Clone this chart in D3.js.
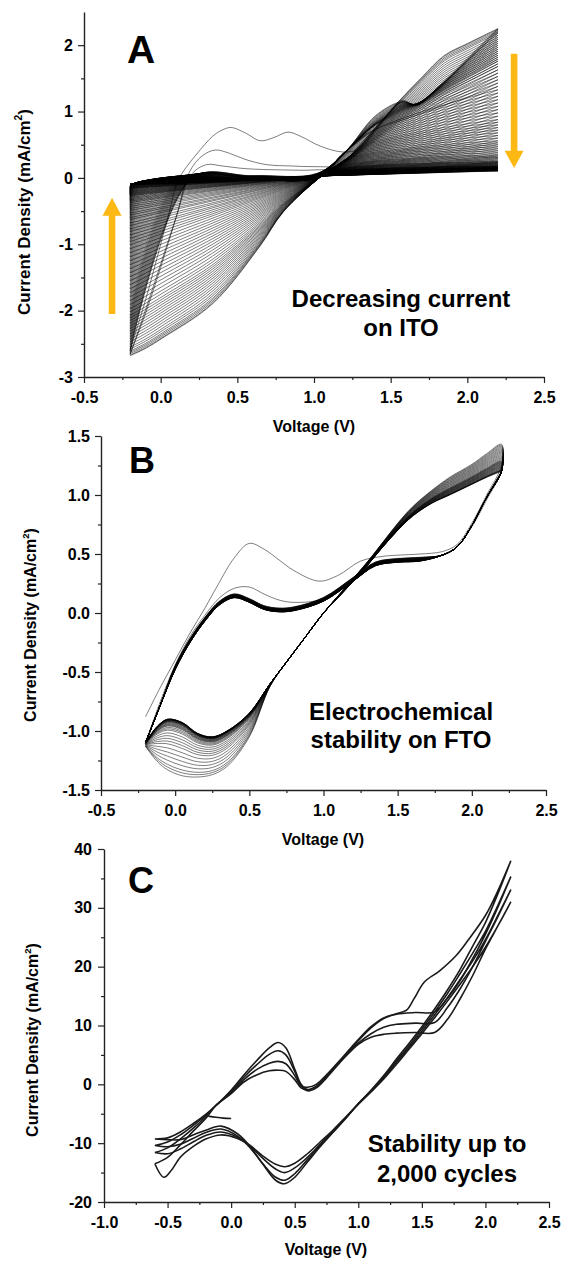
<!DOCTYPE html>
<html><head><meta charset="utf-8">
<script src="https://cdn.jsdelivr.net/npm/d3@7"></script>
<style>
body{margin:0;background:#fff}
svg{display:block;background:#fff}
text{font-family:"Liberation Sans",Arial,Helvetica,sans-serif;font-weight:bold;fill:#000}
</style>
</head><body>
<script>
// ================= DATA =================
// ---- Panel A (ITO, decreasing current) ----
const aXTicks = [-0.5, 0, 0.5, 1, 1.5, 2, 2.5];
const aXLabels = ["-0.5", "0.0", "0.5", "1.0", "1.5", "2.0", "2.5"];
const aXMinor = [-0.25, 0.25, 0.75, 1.25, 1.75, 2.25];
const aYTicks = [-3, -2, -1, 0, 1, 2];
const aYLabels = ["-3", "-2", "-1", "0", "1", "2"];
const aYMinor = [-2.5, -1.5, -0.5, 0.5, 1.5];
// current at the 2.2 V vertex for each cycle (first -> last)
const aEndHigh = [2.25,2.24,2.22,2.2,2.18,2.15,2.12,2.09,2.06,2.03,2.0,1.97,1.94,1.91,1.88,1.85,1.82,1.79,1.76,1.72,
  1.68,1.63,1.58,1.53,1.48,1.43,1.38,1.33,1.28,1.23,1.18,1.13,1.08,1.03,0.98,0.93,0.88,0.84,0.80,0.76,
  0.72,0.68,0.64,0.60,0.56,0.53,0.50,0.47,0.44,0.41,0.38,0.35,0.33,0.31,0.29,0.27,
  0.25,0.24,0.23,0.22,0.21,0.2,0.19,0.18,0.175,0.17,0.165,0.16,0.155,0.15,0.145,0.14,0.138,0.135,0.132,0.13,
  0.128,0.125,0.122,0.12,0.118,0.115,0.112,0.11,0.108,0.105];
// current at the -0.2 V vertex for each cycle
const aEndLow = [-2.68,-2.67,-2.65,-2.63,-2.61,-2.58,-2.55,-2.51,-2.47,-2.43,-2.39,-2.35,-2.31,-2.27,-2.23,-2.19,-2.15,-2.11,-2.07,-2.02,
  -1.97,-1.91,-1.85,-1.79,-1.73,-1.67,-1.61,-1.55,-1.49,-1.43,-1.37,-1.31,-1.25,-1.19,-1.13,-1.07,-1.01,-0.96,-0.91,-0.86,
  -0.81,-0.77,-0.72,-0.68,-0.63,-0.6,-0.56,-0.53,-0.49,-0.46,-0.43,-0.4,-0.37,-0.35,-0.33,-0.31,
  -0.29,-0.27,-0.26,-0.25,-0.24,-0.23,-0.22,-0.21,-0.2,-0.19,-0.18,-0.17,-0.16,-0.155,-0.15,-0.145,-0.14,-0.135,-0.13,-0.125,
  -0.12,-0.115,-0.11,-0.105,-0.1,-0.1,-0.095,-0.09,-0.09,-0.085];
// first three forward scans (read directly)
const aFwd1V = [-0.2,-0.1,0.0,0.06,0.11,0.17,0.235,0.34,0.4,0.46,0.55,0.65,0.74,0.83,0.91,1.04,1.19,1.3,1.4,1.5,1.57,1.67,1.8,2.0,2.2];
const aFwd1I = [-2.6,-1.85,-1.0,-0.48,-0.05,0.17,0.36,0.63,0.72,0.76,0.68,0.56,0.61,0.69,0.63,0.48,0.39,0.44,0.72,1.0,1.17,1.1,1.35,1.8,2.25];
const aFwd2V = [-0.2,-0.1,0.0,0.1,0.19,0.27,0.355,0.45,0.55,0.69,0.85,1.0,1.17,1.3,1.45,1.57,1.67,1.8,2.0,2.2];
const aFwd2I = [-2.66,-2.05,-1.35,-0.6,0.1,0.33,0.42,0.37,0.28,0.2,0.18,0.17,0.2,0.5,0.88,1.15,1.1,1.33,1.78,2.24];
const aFwd3V = [-0.2,-0.1,0.0,0.1,0.2,0.3,0.4,0.55,0.8,1.0,1.15,1.3,1.45,1.57,1.67,1.8,2.0,2.2];
const aFwd3I = [-2.66,-2.0,-1.3,-0.6,0.05,0.2,0.18,0.14,0.12,0.12,0.16,0.5,0.88,1.14,1.09,1.32,1.76,2.22];
// late-cycle baseline (flat band)
const aBaseV = [-0.2, 1.05, 2.2];
const aBaseI = [-0.095, 0.005, 0.1];
// shape of the earliest cycles, as fraction of the vertex current
const aFwdRightV = [1.2, 1.4, 1.57, 1.67, 1.8, 2.0, 2.2];
const aFwdRightEarly = [0.17, 0.43, 0.52, 0.49, 0.6, 0.8, 1.0];
const aRevRightV = [2.0, 1.85, 1.7, 1.55, 1.4, 1.25];
const aRevRightEarly = [0.9, 0.82, 0.67, 0.51, 0.33, 0.16];
const aRevLeftV = [0.8, 0.648, 0.34, 0.015, -0.1, -0.2];
const aRevLeftEarly = [0.2, 0.39, 0.71, 0.9, 0.96, 1.0];
const aPivot = [1.05, 0.03];
const aArrowUp = [-0.317, -2.05, -0.57, -0.30];   // V, tail I, head-base I, tip I
const aArrowDown = [2.305, 1.87, 0.41, 0.15];

// ---- Panel B (FTO, stability) ----
const bXTicks = [-0.5, 0, 0.5, 1, 1.5, 2, 2.5];
const bXLabels = ["-0.5", "0.0", "0.5", "1.0", "1.5", "2.0", "2.5"];
const bXMinor = [-0.25, 0.25, 0.75, 1.25, 1.75, 2.25];
const bYTicks = [-1.5, -1, -0.5, 0, 0.5, 1, 1.5];
const bYLabels = ["-1.5", "-1.0", "-0.5", "0.0", "0.5", "1.0", "1.5"];
const bYMinor = [-1.25, -0.75, -0.25, 0.25, 0.75, 1.25];
const bFwdV = [-0.2,-0.1,0.0,0.1,0.2,0.3,0.4,0.5,0.6,0.7,0.8,1.0,1.2,1.35,1.5,1.65,1.8,1.9,2.0,2.1,2.2];
const bFwdLateI = [-1.1,-0.78,-0.48,-0.25,-0.07,0.07,0.13,0.09,0.03,0.01,0.02,0.1,0.27,0.4,0.43,0.44,0.49,0.56,0.74,0.98,1.2];
const bFwdSecondI = [-1.1,-0.75,-0.44,-0.2,-0.02,0.13,0.21,0.22,0.16,0.11,0.09,0.12,0.28,0.41,0.44,0.45,0.49,0.56,0.73,0.96,1.21];
const bFwdFirstV = [-0.2,-0.1,0.0,0.1,0.2,0.28,0.4,0.5,0.6,0.7,0.8,0.97,1.1,1.25,1.4,1.5,1.65,1.8,1.9,2.0,2.1,2.2];
const bFwdFirstI = [-0.88,-0.63,-0.4,-0.17,0.04,0.22,0.47,0.59,0.54,0.45,0.36,0.27,0.32,0.44,0.48,0.49,0.5,0.52,0.58,0.76,1.0,1.25];
const bRevV = [2.2,2.1,2.0,1.85,1.73,1.6,1.5,1.4,1.3,1.15,1.0,0.88,0.76,0.64,0.5,0.35,0.25,0.15,0.05,-0.05,-0.12,-0.2];
const bRevEarlyI = [1.43,1.35,1.26,1.15,1.04,0.9,0.76,0.6,0.44,0.22,0.0,-0.2,-0.4,-0.62,-1.05,-1.3,-1.37,-1.39,-1.38,-1.33,-1.26,-1.13];
const bRevLateI = [1.2,1.15,1.09,1.0,0.93,0.82,0.7,0.56,0.41,0.2,0.0,-0.2,-0.4,-0.6,-0.85,-1.0,-1.05,-1.02,-0.93,-0.9,-0.96,-1.1];
const bEndHigh = [1.43,1.42,1.41,1.4,1.39,1.38,1.37,1.36,1.35,1.34,1.33,1.32,1.31,1.3,1.29,1.285,1.28,1.275,1.27,1.265,
  1.26,1.255,1.25,1.245,1.24,1.235,1.23,1.225,1.22,1.215,1.21,1.208,1.206,1.204,1.202,1.2];
const bCathMin = [-1.39,-1.37,-1.35,-1.32,-1.29,-1.26,-1.23,-1.2,-1.18,-1.16,-1.14,-1.12,-1.1,-1.09,-1.08,-1.07,-1.065,-1.06,-1.055,-1.05,
  -1.045,-1.04,-1.038,-1.035,-1.033,-1.03,-1.028,-1.026,-1.025,-1.024,-1.023,-1.022,-1.021,-1.02,-1.02,-1.02];

// ---- Panel C (2,000 cycles) ----
const cXTicks = [-1, -0.5, 0, 0.5, 1, 1.5, 2, 2.5];
const cXLabels = ["-1.0", "-0.5", "0.0", "0.5", "1.0", "1.5", "2.0", "2.5"];
const cXMinor = [-0.75, -0.25, 0.25, 0.75, 1.25, 1.75, 2.25];
const cYTicks = [-20, -10, 0, 10, 20, 30, 40];
const cYLabels = ["-20", "-10", "0", "10", "20", "30", "40"];
const cYMinor = [-15, -5, 5, 15, 25, 35];
const cFwd1V = [-0.6,-0.5,-0.4,-0.3,-0.2,-0.12,0.0,0.1,0.2,0.3,0.37,0.43,0.5,0.55,0.6,0.67,0.75,0.85,1.0,1.1,1.2,1.3,1.38,1.44,1.52,1.64,1.77,1.86,2.0,2.1,2.2];
const cFwd1I = [-9.3,-9.1,-8.1,-6.7,-5.1,-3.6,-1.0,1.6,4.0,6.2,7.1,6.2,2.6,0.0,-0.9,-0.4,1.3,3.9,7.6,9.8,11.3,12.0,12.6,14.6,17.4,19.3,21.9,24.4,28.7,33.0,38.0];
const cFwdV = [-0.6,-0.5,-0.4,-0.3,-0.2,-0.12,0.0,0.1,0.2,0.3,0.37,0.43,0.5,0.55,0.6,0.67,0.75,0.85,1.0,1.1,1.2,1.3,1.45,1.6,1.7,1.8,1.9,2.0,2.1,2.2];
const cFwd2I = [-10.4,-9.8,-8.6,-7.0,-5.3,-3.6,-1.2,1.2,3.3,5.1,5.7,5.0,2.2,-0.2,-1.1,-0.6,1.1,3.6,7.4,9.6,11.2,11.9,12.2,12.3,14.6,17.6,21.4,25.5,30.2,35.3];
const cFwd3I = [-11.6,-10.8,-9.3,-7.5,-5.5,-3.6,-1.4,0.8,2.5,3.6,3.9,3.5,1.5,-0.3,-0.5,0.0,1.6,3.9,7.0,8.6,9.7,10.2,10.4,10.5,13.0,16.2,20.0,24.3,28.6,33.1];
const cFwd4I = [-13.5,-12.4,-10.3,-8.0,-5.8,-3.6,-1.6,0.4,1.6,2.3,2.4,2.2,0.8,-0.6,-0.9,-0.3,1.3,3.6,6.8,8.0,8.5,8.7,8.8,8.8,11.0,14.5,18.5,23.0,27.0,31.0];
const cRevV = [2.2,2.1,2.0,1.9,1.8,1.7,1.6,1.5,1.4,1.3,1.2,1.1,1.0,0.9,0.8,0.7,0.6,0.5,0.42,0.35,0.25,0.15,0.05,-0.08,-0.2,-0.3,-0.4,-0.5,-0.6];
const cRev1I = [38.0,32.5,27.5,23.5,19.5,16.0,12.8,9.8,7.0,4.3,1.5,-1.0,-3.3,-5.8,-8.2,-10.6,-13.2,-15.8,-16.9,-16.3,-13.6,-10.6,-8.4,-7.1,-7.8,-8.6,-9.4,-9.4,-9.3];
const cRev2I = [35.3,30.5,26.0,22.3,18.8,15.4,12.3,9.4,6.6,4.0,1.3,-1.1,-3.3,-5.8,-8.1,-10.4,-12.8,-15.2,-16.3,-15.8,-13.5,-10.8,-8.8,-7.6,-8.2,-9.2,-10.2,-10.6,-10.4];
const cRev3I = [33.1,28.8,24.6,21.0,17.8,14.7,11.8,9.0,6.3,3.7,1.1,-1.2,-3.3,-5.7,-8.0,-10.2,-12.4,-14.2,-15.0,-14.4,-12.6,-10.5,-9.0,-8.1,-8.7,-9.8,-11.0,-11.8,-11.6];
const cRev4V = [2.2,2.1,2.0,1.9,1.8,1.7,1.6,1.5,1.4,1.3,1.2,1.1,1.0,0.9,0.8,0.7,0.6,0.5,0.42,0.35,0.25,0.15,0.05,-0.08,-0.2,-0.3,-0.4,-0.47,-0.53,-0.6];
const cRev4I = [31.0,27.0,23.3,20.0,17.0,14.1,11.3,8.6,6.0,3.4,0.9,-1.3,-3.4,-5.6,-7.8,-9.8,-11.8,-13.4,-14.0,-13.6,-12.2,-10.4,-9.2,-8.6,-9.3,-10.6,-12.4,-14.6,-15.8,-13.5];
const cStartV = [0.0, -0.06, -0.12, -0.18];
const cStartI = [-5.8, -5.75, -5.6, -5.4];

// ================= DRAWING =================
const W = 565, H = 1261;
const svg = d3.select("body").append("svg").attr("width", W).attr("height", H);
svg.append("rect").attr("width", W).attr("height", H).attr("fill", "#fff");

const zip = (vs, is) => vs.map((v, i) => [v, is[i]]);

function drawAxes(x, y, xT, xL, xM, yT, yL, yM, yPad) {
  const yb = y.range()[0], xl = x.range()[0];
  const gxm = svg.append("g").attr("transform", `translate(0,${yb})`)
    .call(d3.axisBottom(x).tickValues(xM).tickSize(3).tickFormat("").tickSizeOuter(0));
  gxm.select(".domain").remove();
  const gx = svg.append("g").attr("transform", `translate(0,${yb})`)
    .call(d3.axisBottom(x).tickValues(xT).tickSize(6).tickPadding(8.5).tickSizeOuter(0)
      .tickFormat((d, i) => xL[i]));
  const gym = svg.append("g").attr("transform", `translate(${xl},0)`)
    .call(d3.axisLeft(y).tickValues(yM).tickSize(3).tickFormat("").tickSizeOuter(0));
  gym.select(".domain").remove();
  const gy = svg.append("g").attr("transform", `translate(${xl},0)`)
    .call(d3.axisLeft(y).tickValues(yT).tickSize(6).tickPadding(yPad).tickSizeOuter(0)
      .tickFormat((d, i) => yL[i]));
  [gxm, gx, gym, gy].forEach(g => {
    g.selectAll("line").attr("stroke", "#222").attr("stroke-width", 1.2);
    g.selectAll(".domain").attr("stroke", "#222").attr("stroke-width", 1.4);
    g.selectAll("text").attr("font-size", 16).attr("font-weight", "bold")
      .attr("font-family", '"Liberation Sans",Arial,sans-serif').attr("fill", "#000");
  });
}

function yTitle(xp, yp, fs) {
  const t = svg.append("text").attr("transform", `translate(${xp},${yp}) rotate(-90)`)
    .attr("text-anchor", "middle").attr("font-size", fs);
  t.append("tspan").text("Current Density (mA/cm");
  t.append("tspan").attr("font-size", fs * 0.6).attr("dy", -fs * 0.45).text("2");
  t.append("tspan").attr("dy", fs * 0.45).text(")");
}
function xTitle(xp, yp, fs) {
  svg.append("text").attr("x", xp).attr("y", yp).attr("text-anchor", "middle")
    .attr("font-size", fs).text("Voltage (V)");
}
function textBlock(xp, ys, lines, fs) {
  lines.forEach((s, i) => svg.append("text").attr("x", xp).attr("y", ys[i])
    .attr("text-anchor", "middle").attr("font-size", fs).text(s));
}

// ---------- Panel A ----------
const xA = d3.scaleLinear().domain([-0.5, 2.5]).range([84, 544]);
const yA = d3.scaleLinear().domain([-3, 2.5]).range([377, 12]);
const lineA = d3.line().x(d => xA(d[0])).y(d => yA(d[1])).curve(d3.curveCatmullRom.alpha(0.5));
const base = d3.scaleLinear().domain(aBaseV).range(aBaseI);
const gA = svg.append("g");
const explicitFwd = [zip(aFwd1V, aFwd1I), zip(aFwd2V, aFwd2I), zip(aFwd3V, aFwd3I)];

aEndHigh.forEach((Hk, k) => {
  const Lk = aEndLow[k];
  const h = Hk / aEndHigh[0];
  const e = 0.07 * h * h * h;
  let fwd;
  if (k < explicitFwd.length) fwd = explicitFwd[k];
  else {
    fwd = [[-0.2, Lk]];
    const vj = Math.max(-0.185, -0.2 + (base(-0.2) - Lk) / 6.2);
    fwd.push([vj, base(vj) + e]);
    fwd.push([0.6, base(0.6) + e]);
    fwd.push([1.02, base(1.02) + e]);
    const ib = Math.max(0.5 * Hk, base(1.1) + e), vb = 1.07 + ib / 2.45;
    const wF = Math.pow(Math.max(0, (h - 0.6) / 0.4), 2);
    if (wF > 0) {
      const lateR = d3.scaleLinear().domain([1.02, vb, 2.2]).range([base(1.02) + e, ib, Hk]);
      aFwdRightV.forEach((v, i) => fwd.push([v, lateR(v) * (1 - wF) + aFwdRightEarly[i] * Hk * wF]));
    } else {
      fwd.push([vb, ib]);
      fwd.push([2.2, Hk]);
    }
  }
  const wR = h * h * h;
  const rev = [[2.2, Hk]];
  aRevRightV.forEach((v, i) => {
    const lin = aPivot[1] + (Hk - aPivot[1]) * (v - aPivot[0]) / (2.2 - aPivot[0]);
    rev.push([v, lin * (1 - wR) + aRevRightEarly[i] * Hk * wR]);
  });
  rev.push(aPivot);
  aRevLeftV.forEach((v, i) => {
    const f = (aPivot[0] - v) / (aPivot[0] + 0.2);
    const n = f * (1 - wR) + aRevLeftEarly[i] * wR;
    rev.push([v, aPivot[1] + (Lk - aPivot[1]) * n]);
  });
  gA.append("path").attr("d", lineA(fwd));
  gA.append("path").attr("d", lineA(rev));
});
gA.selectAll("path").attr("fill", "none").attr("stroke", "#000").attr("stroke-width", 0.6).attr("stroke-opacity", 0.85);

drawAxes(xA, yA, aXTicks, aXLabels, aXMinor, aYTicks, aYLabels, aYMinor, 5);
yTitle(30, 212, 17);
xTitle(314, 432, 16);
svg.append("text").attr("x", 127).attr("y", 63).attr("font-size", 39).text("A");
textBlock(401, [307, 336], ["Decreasing current", "on ITO"], 24);

function arrow(x, y, a) {
  const xc = x(a[0]), y0 = y(a[1]), yb = y(a[2]), yt = y(a[3]);
  const sw = 3.3, hw = 9.5;
  const p = d3.path();
  p.moveTo(xc - sw, y0); p.lineTo(xc - sw, yb); p.lineTo(xc - hw, yb); p.lineTo(xc, yt);
  p.lineTo(xc + hw, yb); p.lineTo(xc + sw, yb); p.lineTo(xc + sw, y0); p.closePath();
  svg.append("path").attr("d", p.toString()).attr("fill", "#FDB813");
}
arrow(xA, yA, aArrowUp);
arrow(xA, yA, aArrowDown);

// ---------- Panel B ----------
const xB = d3.scaleLinear().domain([-0.5, 2.5]).range([101, 546]);
const yB = d3.scaleLinear().domain([-1.5, 1.5]).range([790, 436]);
const lineB = d3.line().x(d => xB(d[0])).y(d => yB(d[1])).curve(d3.curveCatmullRom.alpha(0.5));
const gB = svg.append("g");
const eMin = bCathMin[0], lMin = bCathMin[bCathMin.length - 1];
const eHi = bEndHigh[0], lHi = bEndHigh[bEndHigh.length - 1];
bEndHigh.forEach((hi, k) => {
  const wR = (hi - lHi) / (eHi - lHi);
  const wL = (bCathMin[k] - lMin) / (eMin - lMin);
  let fwd;
  if (k === 0) fwd = zip(bFwdFirstV, bFwdFirstI);
  else if (k === 1) fwd = zip(bFwdV, bFwdSecondI);
  else fwd = bFwdV.map((v, i) => [v, bFwdLateI[i] + ((v > -0.05 && v < 1.7) ? 0.035 * wR : 0)]);
  const rev = bRevV.map((v, i) => {
    const w = v >= 1.0 ? wR : wL;
    return [v, bRevLateI[i] * (1 - w) + bRevEarlyI[i] * w];
  });
  gB.append("path").attr("d", lineB(fwd.concat(rev)));
});
gB.selectAll("path").attr("fill", "none").attr("stroke", "#000").attr("stroke-width", 0.6).attr("stroke-opacity", 0.85);

drawAxes(xB, yB, bXTicks, bXLabels, bXMinor, bYTicks, bYLabels, bYMinor, 5);
yTitle(36, 625, 16);
xTitle(323, 845, 16);
svg.append("text").attr("x", 129).attr("y", 473).attr("font-size", 36).text("B");
textBlock(401, [720, 748], ["Electrochemical", "stability on FTO"], 24);

// ---------- Panel C ----------
const xC = d3.scaleLinear().domain([-1, 2.5]).range([104, 549]);
const yC = d3.scaleLinear().domain([-20, 40]).range([1202, 849]);
const lineC = d3.line().x(d => xC(d[0])).y(d => yC(d[1])).curve(d3.curveCatmullRom.alpha(0.5));
const gC = svg.append("g");
const cCycles = [
  zip(cFwd1V, cFwd1I).concat(zip(cRevV, cRev1I)),
  zip(cFwdV, cFwd2I).concat(zip(cRevV, cRev2I)),
  zip(cFwdV, cFwd3I).concat(zip(cRevV, cRev3I)),
  zip(cFwdV, cFwd4I).concat(zip(cRev4V, cRev4I)),
  zip(cStartV, cStartI)
];
cCycles.forEach(c => gC.append("path").attr("d", lineC(c)));
gC.selectAll("path").attr("fill", "none").attr("stroke", "#1a1a1a").attr("stroke-width", 1.6);

drawAxes(xC, yC, cXTicks, cXLabels, cXMinor, cYTicks, cYLabels, cYMinor, 6);
yTitle(38, 1040, 16);
xTitle(326, 1255, 16);
svg.append("text").attr("x", 128).attr("y", 893).attr("font-size", 36).text("C");
textBlock(447, [1152, 1182], ["Stability up to", "2,000 cycles"], 24);
</script>
</body></html>
